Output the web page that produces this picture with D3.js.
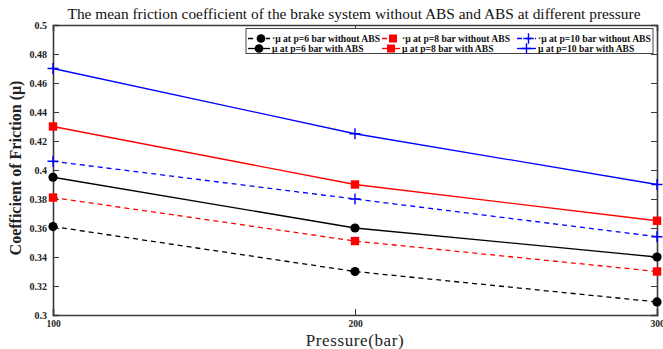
<!DOCTYPE html>
<html>
<head>
<meta charset="utf-8">
<script src="https://cdn.jsdelivr.net/npm/d3@7/dist/d3.min.js"></script>
<style>
  html, body { margin: 0; padding: 0; background: #fff; }
  svg { display: block; }
  text { font-family: "Liberation Serif", "Times New Roman", serif; }
</style>
</head>
<body>
<svg id="chart" width="663" height="349"></svg>
<script>
// Pressure levels on the x axis
const pressures = [100, 200, 300];

// Mean friction coefficient for each braking condition
const mu6NoAbs  = [0.361, 0.330, 0.309];
const mu6Abs    = [0.395, 0.360, 0.340];
const mu8NoAbs  = [0.381, 0.351, 0.330];
const mu8Abs    = [0.430, 0.390, 0.365];
const mu10NoAbs = [0.406, 0.380, 0.354];
const mu10Abs   = [0.470, 0.425, 0.390];

const seriesLabels = [
  "\u00b7\u03bc at p=6 bar without ABS",
  "\u03bc at p=6 bar with ABS",
  "\u00b7\u03bc at p=8 bar without ABS",
  "\u03bc at p=8 bar with ABS",
  "\u00b7\u03bc at p=10 bar without ABS",
  "\u03bc at p=10 bar with ABS"
];

const yTicks = [0.3, 0.32, 0.34, 0.36, 0.38, 0.4, 0.42, 0.44, 0.46, 0.48, 0.5];
const xTicks = [100, 200, 300];

const titleText = "The mean friction coefficient of the brake system without ABS and ABS at different pressure";
const xLabel = "Pressure(bar)";
const yLabel = "Coefficient of Friction (\u03bc)";

// Series styling
const series = [
  { values: mu6NoAbs,  label: seriesLabels[0], color: "#000000", dashed: true,  marker: "circle" },
  { values: mu6Abs,    label: seriesLabels[1], color: "#000000", dashed: false, marker: "circle" },
  { values: mu8NoAbs,  label: seriesLabels[2], color: "#ff0000", dashed: true,  marker: "square" },
  { values: mu8Abs,    label: seriesLabels[3], color: "#ff0000", dashed: false, marker: "square" },
  { values: mu10NoAbs, label: seriesLabels[4], color: "#0000ff", dashed: true,  marker: "plus" },
  { values: mu10Abs,   label: seriesLabels[5], color: "#0000ff", dashed: false, marker: "plus" }
];

const svg = d3.select("#chart");
const plotLeft = 53, plotRight = 657, plotTop = 25, plotBottom = 315;

const x = d3.scaleLinear().domain([100, 300]).range([plotLeft, plotRight]);
const y = d3.scaleLinear().domain([0.3, 0.5]).range([plotBottom, plotTop]);

const frameColor = "#3a3a3a";

// Title
svg.append("text")
  .attr("x", 354).attr("y", 19)
  .attr("text-anchor", "middle")
  .attr("font-size", 15.4)
  .attr("fill", "#111")
  .text(titleText);

// Axes with inward ticks
const axisLeft = d3.axisLeft(y).tickValues(yTicks).tickSize(-6).tickPadding(6)
  .tickFormat(d => String(+d.toFixed(2)));
const gl = svg.append("g").attr("transform", `translate(${plotLeft},0)`).call(axisLeft);
const axisRight = d3.axisRight(y).tickValues(yTicks).tickSize(-6).tickFormat("");
const gr = svg.append("g").attr("transform", `translate(${plotRight},0)`).call(axisRight);
const axisBottom = d3.axisBottom(x).tickValues(xTicks).tickSize(-6).tickPadding(5).tickFormat(d3.format("d"));
const gb = svg.append("g").attr("transform", `translate(0,${plotBottom})`).call(axisBottom);
const axisTop = d3.axisTop(x).tickValues(xTicks).tickSize(-6).tickFormat("");
const gt = svg.append("g").attr("transform", `translate(0,${plotTop})`).call(axisTop);

[gl, gr, gb, gt].forEach(g => {
  g.select(".domain").attr("stroke", frameColor).attr("stroke-width", 1.6);
  g.selectAll(".tick line").attr("stroke", frameColor).attr("stroke-width", 1);
  g.selectAll(".tick text")
    .attr("font-family", "'Liberation Serif', serif")
    .attr("font-weight", "bold")
    .attr("fill", "#222");
});
gl.selectAll(".tick text").attr("font-size", 10);
gb.selectAll(".tick text").attr("font-size", 9.5);
// drop end ticks that sit on the frame corners
gb.selectAll(".tick").filter(d => d === 100 || d === 300).select("line").remove();
gt.selectAll(".tick").filter(d => d === 100 || d === 300).select("line").remove();
gl.selectAll(".tick").filter(d => d === 0.3 || d === 0.5).select("line").remove();
gr.selectAll(".tick").filter(d => d === 0.3 || d === 0.5).select("line").remove();

// Axis titles
svg.append("text")
  .attr("x", 355).attr("y", 346)
  .attr("text-anchor", "middle")
  .attr("font-size", 17)
  .attr("letter-spacing", 0.6)
  .attr("fill", "#222")
  .text(xLabel);

svg.append("text")
  .attr("transform", `translate(21,${(plotTop + plotBottom) / 2 - 2}) rotate(-90)`)
  .attr("text-anchor", "middle")
  .attr("font-size", 16)
  .attr("font-weight", "bold")
  .attr("fill", "#222")
  .text(yLabel);

// Marker drawing
function drawMarker(g, type, cx, cy, color, scale) {
  const s = scale || 1;
  if (type === "circle") {
    g.append("circle").attr("cx", cx).attr("cy", cy).attr("r", 4.6 * s).attr("fill", color);
  } else if (type === "square") {
    const h = 4.2 * s;
    g.append("rect").attr("x", cx - h).attr("y", cy - h).attr("width", 2 * h).attr("height", 2 * h).attr("fill", color);
  } else {
    const h = 5.5 * s;
    g.append("path")
      .attr("d", `M${cx - h},${cy}H${cx + h}M${cx},${cy - h}V${cy + h}`)
      .attr("stroke", color).attr("stroke-width", 1.4).attr("fill", "none");
  }
}

// Lines and markers
const line = d3.line().x((d, i) => x(pressures[i])).y(d => y(d));
const plot = svg.append("g");
series.forEach(s => {
  plot.append("path")
    .datum(s.values)
    .attr("d", line)
    .attr("fill", "none")
    .attr("stroke", s.color)
    .attr("stroke-width", 1.3)
    .attr("stroke-dasharray", s.dashed ? "5,4" : null);
  s.values.forEach((v, i) => drawMarker(plot, s.marker, x(pressures[i]), y(v), s.color));
});

// Legend
const legend = svg.append("g");
legend.append("rect")
  .attr("x", 246).attr("y", 28.5).attr("width", 407).attr("height", 25)
  .attr("fill", "#fff").attr("stroke", "#444").attr("stroke-width", 1);

const colX = [248, 382, 517];
const textX = [272, 402, 538];
const rowY = [38.5, 48.5];
series.forEach((s, i) => {
  const col = Math.floor(i / 2), row = i % 2;
  const cy = rowY[row];
  const x0 = colX[col], x1 = textX[col] - 2;
  legend.append("line")
    .attr("x1", x0).attr("x2", x1).attr("y1", cy).attr("y2", cy)
    .attr("stroke", s.color).attr("stroke-width", 1.3)
    .attr("stroke-dasharray", s.dashed ? "5,4" : null);
  drawMarker(legend, s.marker, (x0 + x1) / 2 + (s.dashed ? 2 : 0), cy, s.color, 0.95);
  legend.append("text")
    .attr("x", textX[col]).attr("y", cy + 3.3)
    .attr("font-size", 9.6)
    .attr("font-weight", "bold")
    .attr("fill", "#111")
    .text(s.label);
});
</script>
</body>
</html>
